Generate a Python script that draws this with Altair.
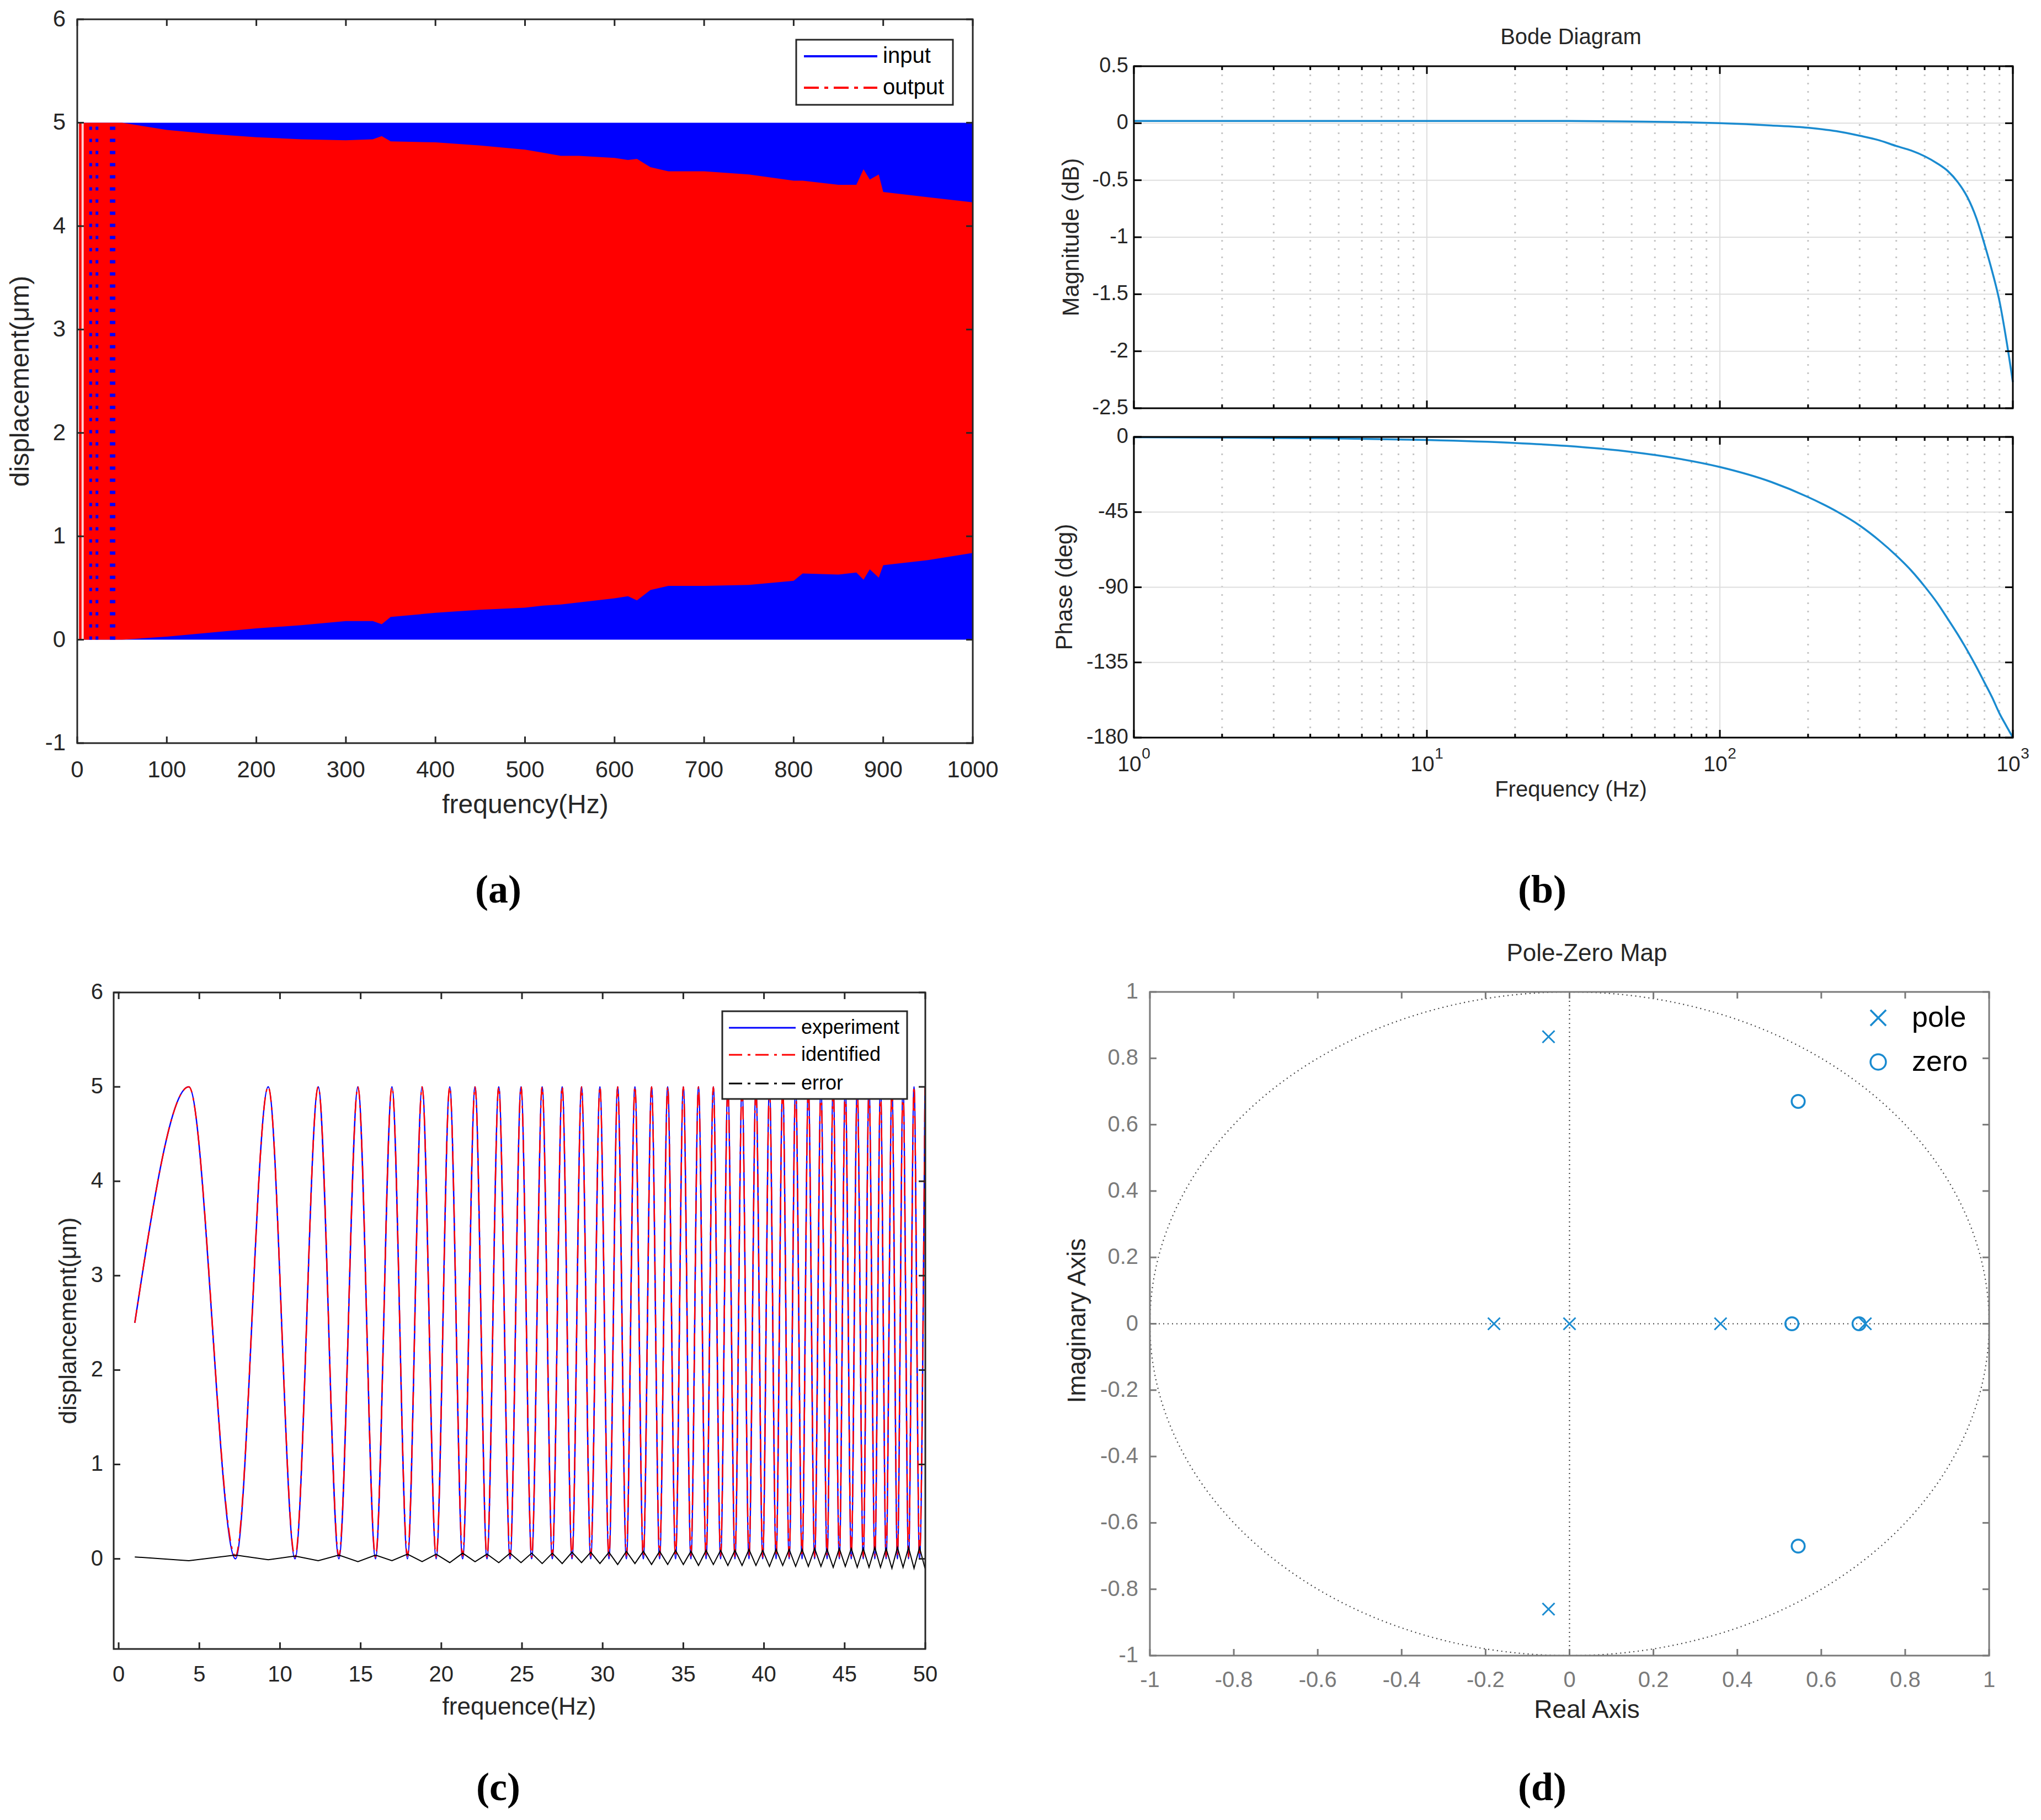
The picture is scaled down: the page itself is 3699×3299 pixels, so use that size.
import altair as alt
import numpy as np
import pandas as pd

# ================= DATA =================
# (a) sweep: input fills 0..5, output envelope
a_in_freq = [4, 1000]
a_in_lo = [0.0, 0.0]
a_in_hi = [5.0, 5.0]
a_freq = [2, 50, 100, 150, 200, 250, 300, 330, 340, 350, 400, 450, 500, 520, 540, 560, 600, 615, 625, 640,
          660, 700, 750, 800, 810, 850, 870, 878, 885, 895, 900, 950, 1000]
a_out_upper = [5.0, 5.0, 4.93, 4.89, 4.86, 4.84, 4.83, 4.84, 4.87, 4.82, 4.81, 4.78, 4.74, 4.71, 4.68, 4.68, 4.66, 4.64, 4.65, 4.57,
               4.53, 4.53, 4.50, 4.44, 4.44, 4.40, 4.40, 4.55, 4.45, 4.50, 4.33, 4.28, 4.23]
a_out_lower = [0.0, 0.0, 0.03, 0.07, 0.11, 0.14, 0.18, 0.18, 0.15, 0.22, 0.26, 0.29, 0.31, 0.33, 0.34, 0.36, 0.40, 0.42, 0.38, 0.48,
               0.52, 0.52, 0.53, 0.57, 0.64, 0.63, 0.65, 0.58, 0.68, 0.60, 0.72, 0.77, 0.84]
a_gap_freq = [6.0]
a_dot_freq = [15, 22, 38, 41]
a_xticks = [0, 100, 200, 300, 400, 500, 600, 700, 800, 900, 1000]
a_xlabels = ["0", "100", "200", "300", "400", "500", "600", "700", "800", "900", "1000"]
a_yticks = [-1, 0, 1, 2, 3, 4, 5, 6]
a_ylabels = ["-1", "0", "1", "2", "3", "4", "5", "6"]

# (b) Bode diagram
b_freq = [1, 2, 5, 10, 20, 30, 50, 70, 100, 150, 200, 250, 300, 350, 400, 450, 500, 550, 600, 650,
          700, 750, 800, 850, 900, 950, 1000]
b_mag = [0.02, 0.02, 0.02, 0.02, 0.02, 0.02, 0.015, 0.01, 0.0, -0.02, -0.04, -0.07, -0.11, -0.15, -0.20, -0.24, -0.29, -0.35, -0.42, -0.52,
         -0.65, -0.83, -1.06, -1.30, -1.56, -1.90, -2.27]
b_phase = [-0.2, -0.4, -0.9, -1.8, -3.6, -5.4, -9.0, -12.6, -18.0, -27.0, -36.0, -44.5, -53.0, -62.0, -71.0, -80.0, -89.5, -99.0, -109.0, -118.5,
           -128.0, -137.5, -147.0, -156.0, -165.5, -173.0, -180.0]
b_major = [1, 10, 100, 1000]
b_minor = [2, 3, 4, 5, 6, 7, 8, 9, 20, 30, 40, 50, 60, 70, 80, 90, 200, 300, 400, 500, 600, 700, 800, 900]
b_xbase = ["10", "10", "10", "10"]
b_xexp = ["0", "1", "2", "3"]
b_mag_ticks = [0.5, 0, -0.5, -1, -1.5, -2, -2.5]
b_mag_labels = ["0.5", "0", "-0.5", "-1", "-1.5", "-2", "-2.5"]
b_ph_ticks = [0, -45, -90, -135, -180]
b_ph_labels = ["0", "-45", "-90", "-135", "-180"]

# (c) time response: extrema of experiment / identified, error
c_x = [1.00, 4.35, 7.24, 9.27, 10.93, 12.37, 13.65, 14.83, 15.92, 16.94,
       17.90, 18.81, 19.68, 20.52, 21.32, 22.09, 22.83, 23.56, 24.26, 24.94,
       25.60, 26.25, 26.88, 27.49, 28.10, 28.69, 29.26, 29.83, 30.39, 30.93,
       31.47, 32.00, 32.52, 33.03, 33.53, 34.03, 34.52, 35.00, 35.47, 35.94,
       36.41, 36.86, 37.31, 37.76, 38.20, 38.64, 39.07, 39.50, 39.92, 40.34,
       40.75, 41.16, 41.56, 41.96, 42.36, 42.75, 43.14, 43.53, 43.91, 44.29,
       44.67, 45.04, 45.41, 45.78, 46.15, 46.51, 46.87, 47.22, 47.57, 47.93,
       48.27, 48.62, 48.96, 49.30, 49.64, 49.98]
c_exp = [2.5, 5.0, 0.0, 5.0, 0.0, 5.0, 0.0, 5.0, 0.0, 5.0,
         0.0, 5.0, 0.0, 5.0, 0.0, 5.0, 0.0, 5.0, 0.0, 5.0,
         0.0, 5.0, 0.0, 5.0, 0.0, 5.0, 0.0, 5.0, 0.0, 5.0,
         0.0, 5.0, 0.0, 5.0, 0.0, 5.0, 0.0, 5.0, 0.0, 5.0,
         0.0, 5.0, 0.0, 5.0, 0.0, 5.0, 0.0, 5.0, 0.0, 5.0,
         0.0, 5.0, 0.0, 5.0, 0.0, 5.0, 0.0, 5.0, 0.0, 5.0,
         0.0, 5.0, 0.0, 5.0, 0.0, 5.0, 0.0, 5.0, 0.0, 5.0,
         0.0, 5.0, 0.0, 5.0, 0.0, 5.0]
c_idf = [2.5, 5.0, 0.03, 5.0, 0.02, 5.0, 0.03, 5.0, 0.02, 5.0,
         0.03, 5.0, 0.02, 5.0, 0.03, 5.0, 0.02, 5.0, 0.03, 5.0,
         0.02, 5.0, 0.03, 5.0, 0.02, 5.0, 0.03, 5.0, 0.02, 5.0,
         0.03, 5.0, 0.02, 5.0, 0.03, 5.0, 0.02, 5.0, 0.03, 5.0,
         0.02, 5.0, 0.03, 5.0, 0.02, 5.0, 0.03, 5.0, 0.02, 5.0,
         0.03, 5.0, 0.02, 5.0, 0.03, 5.0, 0.02, 5.0, 0.03, 5.0,
         0.02, 5.0, 0.03, 5.0, 0.02, 5.0, 0.03, 5.0, 0.02, 5.0,
         0.03, 5.0, 0.02, 5.0, 0.03, 5.0]
c_err = [0.02, -0.02, 0.04, -0.01, 0.03, -0.02, 0.04, -0.03, 0.04, -0.02,
         0.05, -0.03, 0.05, -0.04, 0.06, -0.03, 0.05, -0.04, 0.06, -0.04,
         0.06, -0.05, 0.06, -0.05, 0.07, -0.04, 0.07, -0.05, 0.07, -0.06,
         0.08, -0.05, 0.08, -0.06, 0.08, -0.06, 0.09, -0.06, 0.08, -0.07,
         0.09, -0.06, 0.09, -0.07, 0.09, -0.07, 0.10, -0.07, 0.09, -0.08,
         0.10, -0.07, 0.10, -0.08, 0.10, -0.08, 0.11, -0.08, 0.10, -0.09,
         0.11, -0.08, 0.11, -0.09, 0.11, -0.09, 0.12, -0.09, 0.11, -0.10,
         0.12, -0.09, 0.12, -0.10, 0.12, -0.10]
c_xticks = [0, 5, 10, 15, 20, 25, 30, 35, 40, 45, 50]
c_xlabels = ["0", "5", "10", "15", "20", "25", "30", "35", "40", "45", "50"]
c_yticks = [0, 1, 2, 3, 4, 5, 6]
c_ylabels = ["0", "1", "2", "3", "4", "5", "6"]

# (d) pole-zero map
pole_re = [-0.05, -0.05, -0.18, 0.0, 0.36, 0.705]
pole_im = [0.865, -0.86, 0.0, 0.0, 0.0, 0.0]
zero_re = [0.545, 0.545, 0.53, 0.69]
zero_im = [0.67, -0.67, 0.0, 0.0]
d_ticks = [-1, -0.8, -0.6, -0.4, -0.2, 0, 0.2, 0.4, 0.6, 0.8, 1]
d_labels = ["-1", "-0.8", "-0.6", "-0.4", "-0.2", "0", "0.2", "0.4", "0.6", "0.8", "1"]
# unit circle reference (geometry of the pole-zero map)
_th = np.linspace(0, 2 * np.pi, 721)
unit_re = np.cos(_th)
unit_im = np.sin(_th)

# ================= STYLE / HELPERS =================
SANS = "Liberation Sans"
SERIF = "Liberation Serif"
DARK = "#262626"
BLACK = "#000000"
GRAY = "#7a7a7a"
MBLUE = "#1a8bd0"
OFF = 8


def px(v):
    return v - OFF


ONE = pd.DataFrame({"k": [0]})
layers = []


def sc(domain, r0, r1, typ="linear"):
    return alt.Scale(type=typ, domain=domain, range=[px(r0), px(r1)], nice=False, zero=False)


def frame(L, T, R, B, color, w=3):
    return alt.Chart(ONE).mark_rect(fillOpacity=0, stroke=color, strokeWidth=w).encode(
        x=alt.value(px(L)), x2=alt.value(px(R)), y=alt.value(px(T)), y2=alt.value(px(B)))


def xticks(vals, s, T, B, ln, color, w=3):
    df = pd.DataFrame({"v": vals})
    base = alt.Chart(df).mark_rule(color=color, strokeWidth=w)
    return [base.encode(x=alt.X("v:Q", scale=s, axis=None), y=alt.value(px(B)), y2=alt.value(px(B - ln))),
            base.encode(x=alt.X("v:Q", scale=s, axis=None), y=alt.value(px(T)), y2=alt.value(px(T + ln)))]


def yticks(vals, s, L, R, ln, color, w=3):
    df = pd.DataFrame({"v": vals})
    base = alt.Chart(df).mark_rule(color=color, strokeWidth=w)
    return [base.encode(y=alt.Y("v:Q", scale=s, axis=None), x=alt.value(px(L)), x2=alt.value(px(L + ln))),
            base.encode(y=alt.Y("v:Q", scale=s, axis=None), x=alt.value(px(R)), x2=alt.value(px(R - ln)))]


def vgrid(vals, s, T, B, color, w, dash=None):
    df = pd.DataFrame({"v": vals})
    kw = dict(color=color, strokeWidth=w)
    if dash:
        kw["strokeDash"] = dash
    return alt.Chart(df).mark_rule(**kw).encode(
        x=alt.X("v:Q", scale=s, axis=None), y=alt.value(px(T)), y2=alt.value(px(B)))


def hgrid(vals, s, L, R, color, w, dash=None):
    df = pd.DataFrame({"v": vals})
    kw = dict(color=color, strokeWidth=w)
    if dash:
        kw["strokeDash"] = dash
    return alt.Chart(df).mark_rule(**kw).encode(
        y=alt.Y("v:Q", scale=s, axis=None), x=alt.value(px(L)), x2=alt.value(px(R)))


def xlab(vals, texts, s, y, size, color, dx=0, dy=0):
    df = pd.DataFrame({"v": vals, "t": texts})
    return alt.Chart(df).mark_text(font=SANS, fontSize=size, color=color, align="center",
                                   baseline="middle", dx=dx, dy=dy).encode(
        x=alt.X("v:Q", scale=s, axis=None), y=alt.value(px(y)), text="t:N")


def ylab(vals, texts, s, xr, size, color):
    df = pd.DataFrame({"v": vals, "t": texts})
    return alt.Chart(df).mark_text(font=SANS, fontSize=size, color=color, align="right",
                                   baseline="middle").encode(
        y=alt.Y("v:Q", scale=s, axis=None), x=alt.value(px(xr)), text="t:N")


def txt(t, x, y, size, color=DARK, angle=0, font=SANS, weight="normal", align="center"):
    return alt.Chart(pd.DataFrame({"t": [t]})).mark_text(
        font=font, fontSize=size, color=color, angle=angle, fontWeight=weight,
        align=align, baseline="middle").encode(x=alt.value(px(x)), y=alt.value(px(y)), text="t:N")


def hseg(x0, x1, y, color, w, dash=None):
    kw = dict(color=color, strokeWidth=w)
    if dash:
        kw["strokeDash"] = dash
    return alt.Chart(ONE).mark_rule(**kw).encode(
        x=alt.value(px(x0)), x2=alt.value(px(x1)), y=alt.value(px(y)))


# ================= PANEL (a) =================
A_L, A_R, A_T, A_B = 140, 1763, 35, 1347
AX = sc([0, 1000], A_L, A_R)
AY = sc([-1, 6], A_B, A_T)

layers.append(alt.Chart(pd.DataFrame({"f": a_in_freq, "lo": a_in_lo, "hi": a_in_hi}))
              .mark_area(color="#0000ff", opacity=1)
              .encode(x=alt.X("f:Q", scale=AX, axis=None), y=alt.Y("lo:Q", scale=AY, axis=None), y2="hi:Q"))
layers.append(alt.Chart(pd.DataFrame({"f": a_freq, "lo": a_out_lower, "hi": a_out_upper}))
              .mark_area(color="#ff0000", opacity=1)
              .encode(x=alt.X("f:Q", scale=AX, axis=None), y=alt.Y("lo:Q", scale=AY, axis=None), y2="hi:Q"))
layers.append(alt.Chart(pd.DataFrame({"f": a_gap_freq, "lo": [0.0], "hi": [5.0]}))
              .mark_rule(color="#ffd0d0", strokeWidth=4)
              .encode(x=alt.X("f:Q", scale=AX, axis=None), y=alt.Y("lo:Q", scale=AY, axis=None), y2="hi:Q"))
layers.append(alt.Chart(pd.DataFrame({"f": a_dot_freq, "lo": [0.0] * len(a_dot_freq), "hi": [5.0] * len(a_dot_freq)}))
              .mark_rule(color="#0000ff", strokeWidth=5, strokeDash=[6, 16])
              .encode(x=alt.X("f:Q", scale=AX, axis=None), y=alt.Y("lo:Q", scale=AY, axis=None), y2="hi:Q"))
layers.append(frame(A_L, A_T, A_R, A_B, DARK))
layers += xticks(a_xticks, AX, A_T, A_B, 12, DARK)
layers += yticks(a_yticks, AY, A_L, A_R, 12, DARK)
layers.append(xlab(a_xticks, a_xlabels, AX, 1396, 42, DARK))
layers.append(ylab(a_yticks, a_ylabels, AY, 119, 42, DARK))
layers.append(txt("frequency(Hz)", 952, 1460, 48))
layers.append(txt("displacement(\u03bcm)", 38, 691, 48, angle=270))
# legend (a)
layers.append(alt.Chart(ONE).mark_rect(fill="white", stroke=DARK, strokeWidth=3).encode(
    x=alt.value(px(1443)), x2=alt.value(px(1727)), y=alt.value(px(72)), y2=alt.value(px(190))))
layers.append(hseg(1457, 1590, 102, "#0000ff", 4))
layers.append(hseg(1457, 1590, 159, "#ff0000", 4, [27, 10, 7, 10]))
layers.append(txt("input", 1600, 102, 40, align="left", color=BLACK))
layers.append(txt("output", 1600, 159, 40, align="left", color=BLACK))
layers.append(txt("(a)", 903, 1614, 72, color=BLACK, font=SERIF, weight="bold"))

# ================= PANEL (b) =================
B_L, B_R = 2055, 3648
M_T, M_B = 120, 740
P_T, P_B = 792, 1337
BX = sc([1, 1000], B_L, B_R, "log")
MY = sc([-2.5, 0.5], M_B, M_T)
PY = sc([-180, 0], P_B, P_T)
GRID = "#dedede"
MINOR = "#c4c4c4"
for (T, B, Y, ticks) in [(M_T, M_B, MY, b_mag_ticks), (P_T, P_B, PY, b_ph_ticks)]:
    layers.append(vgrid(b_minor, BX, T, B, MINOR, 3, [3, 12]))
    layers.append(vgrid(b_major, BX, T, B, GRID, 2))
    layers.append(hgrid(ticks, Y, B_L, B_R, GRID, 2))
bdf = pd.DataFrame({"f": b_freq, "m": b_mag, "p": b_phase})
layers.append(alt.Chart(bdf).mark_line(color=MBLUE, strokeWidth=3.5, interpolate="monotone").encode(
    x=alt.X("f:Q", scale=BX, axis=None), y=alt.Y("m:Q", scale=MY, axis=None)))
layers.append(alt.Chart(bdf).mark_line(color=MBLUE, strokeWidth=3.5, interpolate="monotone").encode(
    x=alt.X("f:Q", scale=BX, axis=None), y=alt.Y("p:Q", scale=PY, axis=None)))
for (T, B, Y, ticks) in [(M_T, M_B, MY, b_mag_ticks), (P_T, P_B, PY, b_ph_ticks)]:
    layers.append(frame(B_L, T, B_R, B, BLACK))
    layers += xticks(b_major, BX, T, B, 14, BLACK)
    layers += xticks(b_minor, BX, T, B, 7, BLACK)
    layers += yticks(ticks, Y, B_L, B_R, 14, BLACK)
layers.append(ylab(b_mag_ticks, b_mag_labels, MY, 2045, 38, DARK))
layers.append(ylab(b_ph_ticks, b_ph_labels, PY, 2045, 38, DARK))
layers.append(xlab(b_major, b_xbase, BX, 1386, 39, DARK, dx=-8))
layers.append(xlab(b_major, b_xexp, BX, 1367, 28, DARK, dx=22))
layers.append(txt("Bode Diagram", 2847, 68, 40))
layers.append(txt("Magnitude (dB)", 1942, 430, 42, angle=270))
layers.append(txt("Phase (deg)", 1930, 1064, 42, angle=270))
layers.append(txt("Frequency (Hz)", 2847, 1432, 40))
layers.append(txt("(b)", 2795, 1614, 72, color=BLACK, font=SERIF, weight="bold"))

# ================= PANEL (c) =================
C_L, C_R, C_T, C_B = 206, 1677, 1799, 2989
CX = sc([-0.31, 50], C_L, C_R)
CY = sc([-0.955, 6], C_B, C_T)
cdf = pd.DataFrame({"x": c_x, "e": c_exp, "i": c_idf, "r": c_err})
layers.append(alt.Chart(cdf).mark_line(color="#0000ff", strokeWidth=2.5, interpolate="monotone").encode(
    x=alt.X("x:Q", scale=CX, axis=None), y=alt.Y("e:Q", scale=CY, axis=None)))
layers.append(alt.Chart(cdf).mark_line(color="#ff0000", strokeWidth=2.5, interpolate="monotone",
                                       strokeDash=[24, 10, 5, 9]).encode(
    x=alt.X("x:Q", scale=CX, axis=None), y=alt.Y("i:Q", scale=CY, axis=None)))
layers.append(alt.Chart(cdf).mark_line(color=BLACK, strokeWidth=2).encode(
    x=alt.X("x:Q", scale=CX, axis=None), y=alt.Y("r:Q", scale=CY, axis=None)))
layers.append(frame(C_L, C_T, C_R, C_B, DARK))
layers += xticks(c_xticks, CX, C_T, C_B, 12, DARK)
layers += yticks(c_yticks, CY, C_L, C_R, 12, DARK)
layers.append(xlab(c_xticks, c_xlabels, CX, 3036, 40, DARK))
layers.append(ylab(c_yticks, c_ylabels, CY, 187, 40, DARK))
layers.append(txt("frequence(Hz)", 941, 3095, 44))
layers.append(txt("displancement(\u03bcm)", 125, 2394, 44, angle=270))
layers.append(alt.Chart(ONE).mark_rect(fill="white", stroke=DARK, strokeWidth=3).encode(
    x=alt.value(px(1309)), x2=alt.value(px(1644)), y=alt.value(px(1833)), y2=alt.value(px(1992))))
layers.append(hseg(1321, 1442, 1863, "#0000ff", 3))
layers.append(hseg(1321, 1442, 1912, "#ff0000", 3, [24, 10, 5, 9]))
layers.append(hseg(1321, 1442, 1964, BLACK, 3, [24, 10, 5, 9]))
layers.append(txt("experiment", 1452, 1863, 36, align="left", color=BLACK))
layers.append(txt("identified", 1452, 1912, 36, align="left", color=BLACK))
layers.append(txt("error", 1452, 1964, 36, align="left", color=BLACK))
layers.append(txt("(c)", 903, 3241, 72, color=BLACK, font=SERIF, weight="bold"))

# ================= PANEL (d) =================
D_L, D_R, D_T, D_B = 2084, 3605, 1798, 3001
DX = sc([-1, 1], D_L, D_R)
DY = sc([-1, 1], D_B, D_T)
DOT = "#404040"
layers.append(alt.Chart(pd.DataFrame({"re": unit_re, "im": unit_im, "o": np.arange(len(unit_re))}))
              .mark_line(color=DOT, strokeWidth=2.2, strokeDash=[2, 6]).encode(
    x=alt.X("re:Q", scale=DX, axis=None), y=alt.Y("im:Q", scale=DY, axis=None), order="o:Q"))
layers.append(vgrid([0], DX, D_T, D_B, DOT, 2.2, [2, 6]))
layers.append(hgrid([0], DY, D_L, D_R, DOT, 2.2, [2, 6]))
XSHAPE = "M-1,-1L1,1M1,-1L-1,1"
layers.append(alt.Chart(pd.DataFrame({"re": pole_re, "im": pole_im}))
              .mark_point(shape=XSHAPE, size=484, filled=False, color=MBLUE, strokeWidth=3, opacity=1)
              .encode(x=alt.X("re:Q", scale=DX, axis=None), y=alt.Y("im:Q", scale=DY, axis=None)))
layers.append(alt.Chart(pd.DataFrame({"re": zero_re, "im": zero_im}))
              .mark_point(shape="circle", size=560, filled=False, color=MBLUE, strokeWidth=3.5, opacity=1)
              .encode(x=alt.X("re:Q", scale=DX, axis=None), y=alt.Y("im:Q", scale=DY, axis=None)))
layers.append(frame(D_L, D_T, D_R, D_B, GRAY))
layers += xticks(d_ticks, DX, D_T, D_B, 12, GRAY)
layers += yticks(d_ticks, DY, D_L, D_R, 12, GRAY)
layers.append(xlab(d_ticks, d_labels, DX, 3046, 40, GRAY))
layers.append(ylab(d_ticks, d_labels, DY, 2063, 40, GRAY))
layers.append(txt("Pole-Zero Map", 2876, 1729, 44))
layers.append(txt("Real Axis", 2876, 3100, 46))
layers.append(txt("Imaginary Axis", 1953, 2394, 46, angle=270))
layers.append(alt.Chart(ONE).mark_point(shape=XSHAPE, size=800, filled=False, color=MBLUE, strokeWidth=3.5, opacity=1)
              .encode(x=alt.value(px(3404)), y=alt.value(px(1845))))
layers.append(alt.Chart(ONE).mark_point(shape="circle", size=780, filled=False, color=MBLUE, strokeWidth=3.5, opacity=1)
              .encode(x=alt.value(px(3404)), y=alt.value(px(1925))))
layers.append(txt("pole", 3465, 1845, 52, align="left", color=BLACK))
layers.append(txt("zero", 3465, 1925, 52, align="left", color=BLACK))
layers.append(txt("(d)", 2795, 3241, 72, color=BLACK, font=SERIF, weight="bold"))

# ================= COMPOSE =================
chart = (alt.layer(*layers)
         .resolve_scale(x="independent", y="independent")
         .properties(width=3683, height=3283, padding=0,
                     autosize=alt.AutoSizeParams(type="none"), background="white")
         .configure_view(strokeWidth=0))

chart.save("out.html", embed_options={"renderer": "svg", "actions": False})
